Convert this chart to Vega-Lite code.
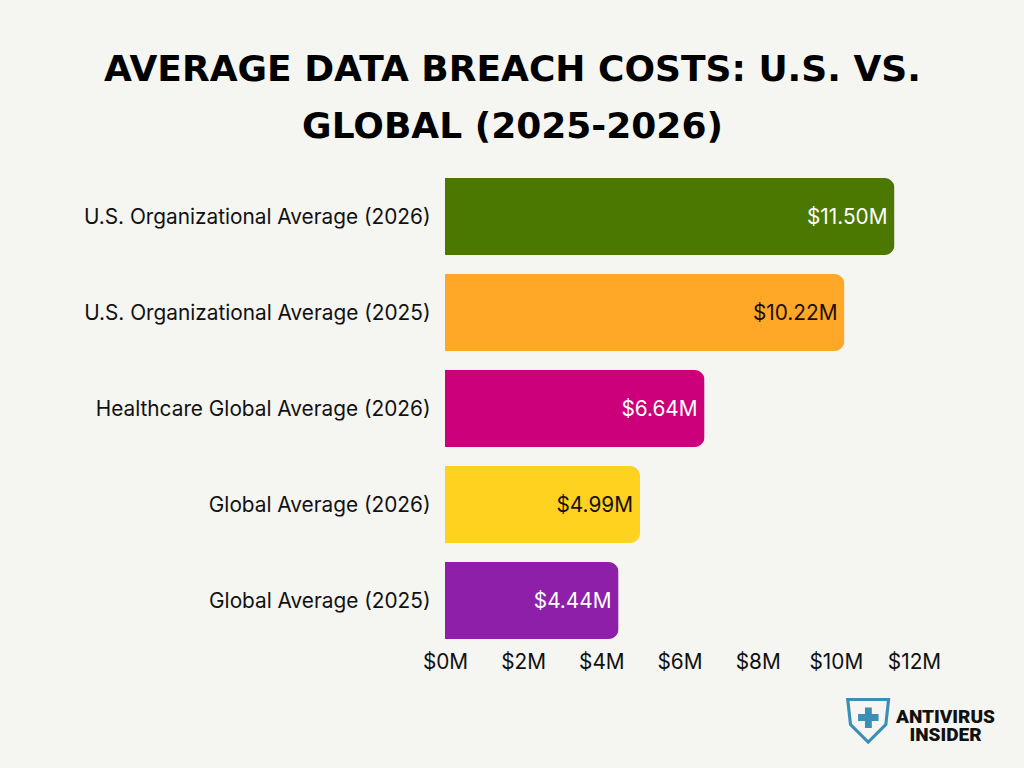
{
  "$schema": "https://vega.github.io/schema/vega-lite/v6.json",
  "width": 469,
  "height": 480,
  "autosize": {"type": "none"},
  "padding": {"left": 445, "top": 168.5, "right": 110, "bottom": 119.5},
  "background": "#f5f5f1",
  "title": {
    "text": ["AVERAGE DATA BREACH COSTS: U.S. VS.", "GLOBAL (2025-2026)"],
    "font": "DejaVu Sans",
    "fontWeight": "bold",
    "fontSize": 36,
    "lineHeight": 57,
    "color": "#000000",
    "anchor": "middle",
    "frame": "group",
    "dx": -167,
    "offset": 23
  },
  "data": {
    "values": [
      {"category": "U.S. Organizational Average (2026)", "cost": 11.5, "label": "$11.50M"},
      {"category": "U.S. Organizational Average (2025)", "cost": 10.22, "label": "$10.22M"},
      {"category": "Healthcare Global Average (2026)", "cost": 6.64, "label": "$6.64M"},
      {"category": "Global Average (2026)", "cost": 4.99, "label": "$4.99M"},
      {"category": "Global Average (2025)", "cost": 4.44, "label": "$4.44M"}
    ]
  },
  "encoding": {
    "y": {
      "field": "category",
      "type": "nominal",
      "sort": null,
      "scale": {"paddingInner": 0.2, "paddingOuter": 0.1},
      "axis": {
        "domain": false,
        "ticks": false,
        "grid": false,
        "labelFont": "Inter",
        "labelFontSize": 20.8,
        "labelColor": "#111111",
        "labelPadding": 15,
        "labelLimit": 420,
        "labelOffset": 1,
        "title": "⛨",
        "titleFont": "DejaVu Sans",
        "titleFontSize": 62,
        "titleFontWeight": "normal",
        "titleColor": "#3a8fb5",
        "titleAngle": 0,
        "titleAlign": "center",
        "titleBaseline": "middle",
        "titleX": 423,
        "titleY": 555
      }
    },
    "x": {
      "field": "cost",
      "type": "quantitative",
      "scale": {"domain": [0, 12], "nice": false},
      "axis": {
        "values": [0, 2, 4, 6, 8, 10, 12],
        "labelExpr": "'$' + datum.value + 'M'",
        "labelFlush": false,
        "domain": false,
        "ticks": false,
        "grid": false,
        "labelFont": "Inter",
        "labelFontSize": 20.8,
        "labelColor": "#111111",
        "labelPadding": 4,
        "title": ["ANTIVIRUS", "INSIDER"],
        "titleFont": "Roboto",
        "titleFontSize": 19,
        "titleFontWeight": 900,
        "titleColor": "#111111",
        "titleLineHeight": 18,
        "titleAlign": "center",
        "titleBaseline": "middle",
        "titleX": 500,
        "titleY": 68
      }
    }
  },
  "layer": [
    {
      "mark": {"type": "bar", "cornerRadiusEnd": 10},
      "encoding": {
        "color": {
          "field": "category",
          "type": "nominal",
          "legend": null,
          "scale": {
            "domain": [
              "U.S. Organizational Average (2026)",
              "U.S. Organizational Average (2025)",
              "Healthcare Global Average (2026)",
              "Global Average (2026)",
              "Global Average (2025)"
            ],
            "range": ["#4a7800", "#ffa726", "#cc007a", "#ffd220", "#8e1fa8"]
          }
        }
      }
    },
    {
      "mark": {"type": "text", "align": "right", "baseline": "middle", "dx": -7, "dy": 1, "font": "Inter", "fontSize": 20.8},
      "encoding": {
        "text": {"field": "label"},
        "color": {
          "field": "category",
          "type": "nominal",
          "legend": null,
          "scale": {
            "domain": [
              "U.S. Organizational Average (2026)",
              "U.S. Organizational Average (2025)",
              "Healthcare Global Average (2026)",
              "Global Average (2026)",
              "Global Average (2025)"
            ],
            "range": ["#ffffff", "#1a1010", "#ffffff", "#1a1010", "#ffffff"]
          }
        }
      }
    }
  ],
  "resolve": {"scale": {"color": "independent"}},
  "config": {"view": {"stroke": null}}
}
